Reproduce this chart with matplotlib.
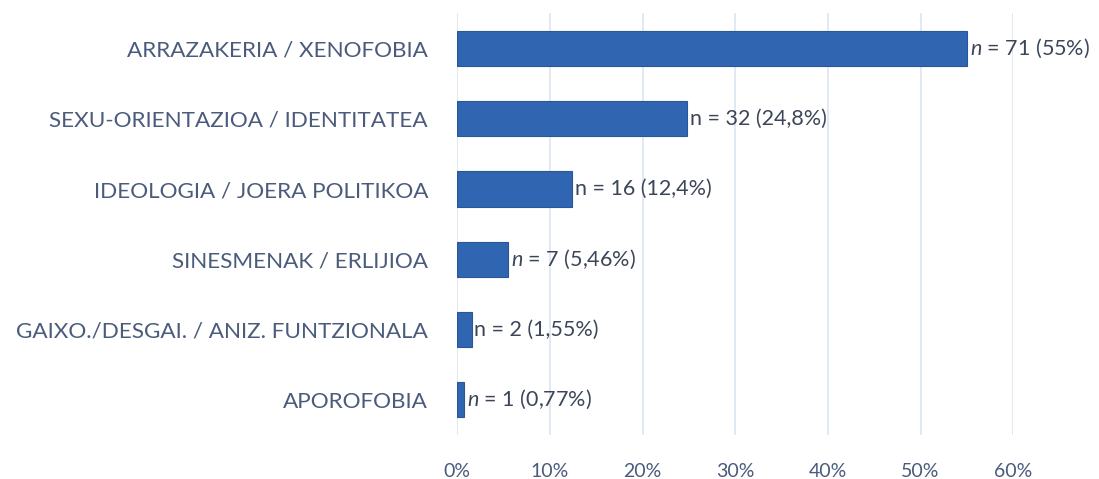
import matplotlib.pyplot as plt
from matplotlib.ticker import PercentFormatter

categories = ["ARRAZAKERIA / XENOFOBIA", "SEXU-ORIENTAZIOA / IDENTITATEA",
              "IDEOLOGIA / JOERA POLITIKOA", "SINESMENAK / ERLIJIOA",
              "GAIXO./DESGAI. / ANIZ. FUNTZIONALA", "APOROFOBIA"]
counts = [71, 32, 16, 7, 2, 1]
percents = [55, 24.8, 12.4, 5.46, 1.55, 0.77]
pct_labels = ["55%", "24,8%", "12,4%", "5,46%", "1,55%", "0,77%"]
italic_n = [True, False, False, True, False, True]

plt.rcParams['font.family'] = ['Lato', 'DejaVu Sans']
plt.rcParams['mathtext.fontset'] = 'custom'
plt.rcParams['mathtext.it'] = 'Lato:italic'
plt.rcParams['mathtext.rm'] = 'Lato'

label_col = "#4A5B7C"
text_col = "#3C4658"
bar_col = "#3065B2"
grid_col = "#DCE6F2"

fig = plt.figure(figsize=(10.99, 4.79), dpi=100)
ax = fig.add_axes([0.416, 0.092, 0.506, 0.88])

y = list(range(len(categories)))
ax.barh(y, [p / 100 for p in percents], height=0.5, color=bar_col,
        edgecolor="#2A5597", linewidth=0.8, zorder=3)

for i, (c, p, lab, it) in enumerate(zip(counts, percents, pct_labels, italic_n)):
    nn = r"$\it{n}$" if it else "n"
    ax.text(p / 100 + 0.003, i, f"{nn} = {c} ({lab})", va="center", ha="left",
            fontsize=15.5, color=text_col, zorder=4)

ax.set_ylim(len(categories) - 0.5, -0.5)
ax.set_xlim(0, 0.6)
ax.set_xticks([0, 0.1, 0.2, 0.3, 0.4, 0.5, 0.6])
ax.xaxis.set_major_formatter(PercentFormatter(1.0, decimals=0))
ax.set_yticks(y)
ax.set_yticklabels(categories, fontsize=16.2, color=label_col)
ax.tick_params(axis="y", length=0, pad=21)
ax.tick_params(axis="x", length=0, pad=20, labelsize=14, labelcolor=label_col)
ax.grid(axis="x", color=grid_col, linewidth=1.2, zorder=0)
for s in ax.spines.values():
    s.set_visible(False)

fig.savefig("out.png", dpi=100)
